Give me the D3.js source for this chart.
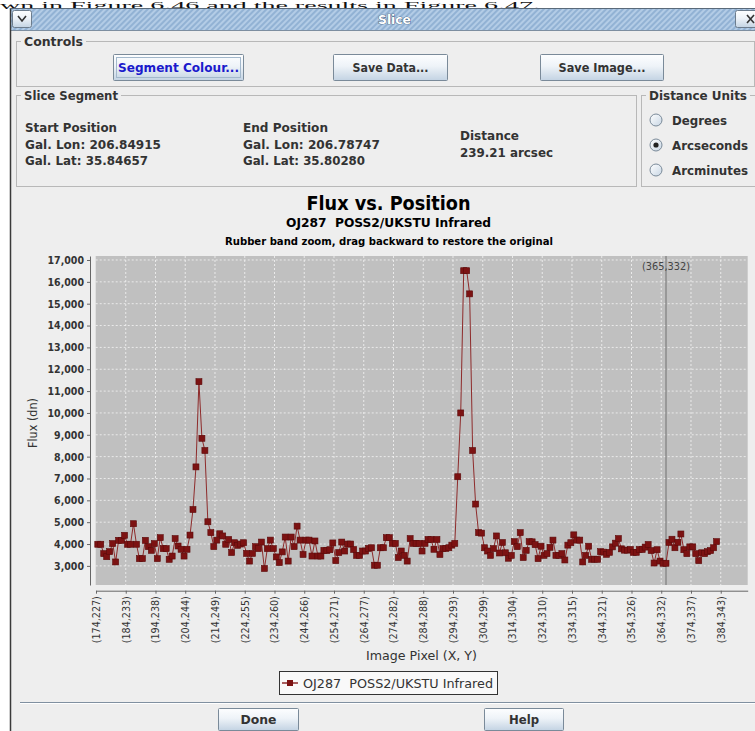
<!DOCTYPE html>
<html><head><meta charset="utf-8">
<script src="https://cdn.jsdelivr.net/npm/d3@7"></script>
<style>
html,body{margin:0;padding:0;background:#fff;overflow:hidden;}
svg{display:block;}
text{font-family:"DejaVu Sans Condensed","DejaVu Sans",sans-serif;}
</style></head><body>
<svg id="c" width="755" height="731"></svg>
<script>
// ---------------- DATA ----------------
const fluxValues = [
3990,3990,3560,3420,3650,4020,3180,4170,4170,4400,
3990,3990,4930,3990,3330,3330,4170,3880,3710,4020,
3330,4290,3790,3790,3300,3450,4250,3910,3760,3450,
3760,4410,5580,7530,11430,8840,8280,5020,4520,3880,
4180,4470,4370,3990,4210,3610,4060,3940,4000,4060,
3570,3220,3570,3880,3790,4090,2880,3790,4180,3790,
3410,3150,3640,4320,3220,4320,3880,4820,4180,3520,
4180,4180,3450,4140,3450,3450,3710,3700,3740,4050,
3240,3610,4090,3680,4000,4000,3750,3480,3480,3680,
3680,3800,3830,3030,3030,3830,3830,4290,4290,4030,
4030,3380,3680,3480,3220,4250,4030,4030,4030,3680,
4030,4210,4210,3760,4210,3520,3790,3800,3830,3950,
4030,7080,10000,16510,16510,15450,8280,5830,4520,4500,
3830,3680,3480,3790,4370,3590,4070,3600,3350,3480,
4110,3880,4520,3380,3710,4110,4100,3970,3330,3900,
3480,3560,3850,4180,3480,3480,3560,3270,3950,4060,
4420,4180,4180,3180,3480,3900,3300,3310,3300,3650,
3630,3530,3620,3870,4040,4250,3780,3720,3720,3750,
3620,3620,3750,3750,3860,3980,3700,3130,3740,3220,
3120,3120,4070,4220,3830,4080,4460,3740,3560,3870,
3870,3560,3240,3600,3560,3650,3700,3830,4110
];
const xTickLabels = ["(174,227)","(184,233)","(194,238)","(204,244)","(214,249)","(224,255)",
  "(234,260)","(244,266)","(254,271)","(264,277)","(274,282)","(284,288)","(294,293)",
  "(304,299)","(314,304)","(324,310)","(334,315)","(344,321)","(354,326)","(364,332)",
  "(374,337)","(384,343)"];
const xTickStep = 10;            // samples between labelled ticks
const pointOffset = 0.6;         // sample offset relative to tick grid
const yTickValues = [3000,4000,5000,6000,7000,8000,9000,10000,11000,12000,13000,14000,15000,16000,17000];
const crosshairIndex = 191;
const crosshairLabel = "(365,332)";
const seriesName = "OJ287  POSS2/UKSTU Infrared";
const chartTitle = "Flux vs. Position";
const chartSub1 = "OJ287  POSS2/UKSTU Infrared";
const chartSub2 = "Rubber band zoom, drag backward to restore the original";
const startPos = ["Start Position","Gal. Lon: 206.84915","Gal. Lat: 35.84657"];
const endPos = ["End Position","Gal. Lon: 206.78747","Gal. Lat: 35.80280"];
const distance = ["Distance","239.21 arcsec"];
const unitOptions = ["Degrees","Arcseconds","Arcminutes"];
const selectedUnit = "Arcseconds";

// ---------------- HELPERS ----------------
const svg = d3.select("#c");
const defs = svg.append("defs");

function txt(g, x, y, s, o = {}) {
  const t = g.append("text").attr("x", x).attr("y", y).text(s)
    .attr("font-size", o.size || 12)
    .attr("font-weight", o.weight || "normal")
    .attr("fill", o.fill || "#333")
    .attr("text-anchor", o.anchor || "start")
    .style("white-space", "pre");
  if (o.family) t.style("font-family", o.family);
  if (o.len) t.attr("textLength", o.len).attr("lengthAdjust", "spacingAndGlyphs");
  if (o.transform) t.attr("transform", o.transform);
  return t;
}

const btnGrad = defs.append("linearGradient").attr("id", "btn").attr("x1", 0).attr("y1", 0).attr("x2", 0).attr("y2", 1);
btnGrad.append("stop").attr("offset", "0%").attr("stop-color", "#fdfeff");
btnGrad.append("stop").attr("offset", "45%").attr("stop-color", "#eef3f8");
btnGrad.append("stop").attr("offset", "100%").attr("stop-color", "#c3d3e3");
const radGrad = defs.append("linearGradient").attr("id", "rad").attr("x1", 0).attr("y1", 0).attr("x2", 1).attr("y2", 1);
radGrad.append("stop").attr("offset", "0%").attr("stop-color", "#ffffff");
radGrad.append("stop").attr("offset", "100%").attr("stop-color", "#c8d6e4");
const pat = defs.append("pattern").attr("id", "stripes").attr("width", 4).attr("height", 4)
  .attr("patternUnits", "userSpaceOnUse").attr("patternTransform", "rotate(45)");
pat.append("rect").attr("width", 4).attr("height", 4).attr("fill", "#92b2d4");
pat.append("rect").attr("width", 2).attr("height", 4).attr("fill", "#b3cce6");

function button(x, y, w, h, label, len, o = {}) {
  const g = svg.append("g");
  g.append("rect").attr("x", x + 0.5).attr("y", y + 0.5).attr("width", w).attr("height", h)
    .attr("rx", 1).attr("fill", "url(#btn)").attr("stroke", "#7a8a99");
  if (o.focus) g.append("rect").attr("x", x + 3.5).attr("y", y + 3.5).attr("width", w - 6).attr("height", h - 6)
    .attr("fill", "none").attr("stroke", "#a3b8cc");
  txt(g, x + w / 2 + 0.5, y + h / 2 + 5, label, { weight: "bold", anchor: "middle", len, fill: o.fill || "#333" });
}
function groupBox(x, y, w, h, title, tlen) {
  const g = svg.append("g");
  g.append("rect").attr("x", x + 0.5).attr("y", y + 0.5).attr("width", w).attr("height", h)
    .attr("fill", "none").attr("stroke", "#b8b8b8");
  g.append("rect").attr("x", x + 5).attr("y", y - 6).attr("width", tlen + 6).attr("height", 12).attr("fill", "#eeeeee");
  txt(g, x + 8, y + 5, title, { weight: "bold", len: tlen });
}

// ---------------- PAGE / WINDOW ----------------
txt(svg, 0, 8.5, "wn in Figure 6.46 and the results in Figure 6.47.", { size: 11, fill: "#111", len: 540, family: "'Liberation Serif','DejaVu Serif',serif" });
svg.append("rect").attr("x", 10).attr("y", 8).attr("width", 760).attr("height", 740).attr("fill", "#eeeeee");
svg.append("rect").attr("x", 10).attr("y", 8).attr("width", 760).attr("height", 22).attr("fill", "url(#stripes)");
svg.append("line").attr("x1", 10).attr("x2", 755).attr("y1", 30.5).attr("y2", 30.5).attr("stroke", "#7d8ea0");
svg.append("line").attr("x1", 10.5).attr("x2", 10.5).attr("y1", 8).attr("y2", 731).attr("stroke", "#3a3a3a").attr("stroke-width", 1.5);
svg.append("line").attr("x1", 10).attr("x2", 755).attr("y1", 8.5).attr("y2", 8.5).attr("stroke", "#5a6a7a");
svg.append("rect").attr("x", 12.5).attr("y", 10.5).attr("width", 19).attr("height", 17).attr("rx", 2)
  .attr("fill", "url(#btn)").attr("stroke", "#6d7d8d");
svg.append("path").attr("d", "M18,16 L22,21 L26,16").attr("fill", "none").attr("stroke", "#333").attr("stroke-width", 1.6);
svg.append("rect").attr("x", 735.5).attr("y", 10.5).attr("width", 22).attr("height", 17).attr("rx", 2)
  .attr("fill", "url(#btn)").attr("stroke", "#6d7d8d");
svg.append("path").attr("d", "M747,15 L754,23 M754,15 L747,23").attr("stroke", "#333").attr("stroke-width", 1.6);
txt(svg, 394.5, 24, "Slice", { weight: "bold", anchor: "middle", fill: "#ffffff", len: 33 })
  .attr("stroke", "#2f4868").attr("stroke-width", 0.7).attr("paint-order", "stroke");

// ---------------- CONTROLS ----------------
groupBox(16, 41, 738, 45, "Controls", 59);
button(113, 54, 130, 26, "Segment Colour...", 121, { focus: true, fill: "#1a1acc" });
button(333, 54, 114, 26, "Save Data...", 76);
button(540, 54, 123, 26, "Save Image...", 87);

groupBox(16, 95, 620, 91, "Slice Segment", 94);
const lens1 = [92, 136, 123], lens2 = [85, 137, 122], lens3 = [59, 93];
startPos.forEach((s, k) => txt(svg, 25, 132 + k * 16.5, s, { weight: "bold", len: lens1[k] }));
endPos.forEach((s, k) => txt(svg, 243, 132 + k * 16.5, s, { weight: "bold", len: lens2[k] }));
distance.forEach((s, k) => txt(svg, 460, 140 + k * 17, s, { weight: "bold", len: lens3[k] }));

groupBox(641, 95, 130, 91, "Distance Units", 98);
const unitLens = [55, 76, 76];
unitOptions.forEach((u, k) => {
  const cy = 120 + k * 25;
  svg.append("circle").attr("cx", 656).attr("cy", cy).attr("r", 6).attr("fill", "url(#rad)").attr("stroke", "#7a8a99");
  if (u === selectedUnit) svg.append("circle").attr("cx", 656).attr("cy", cy).attr("r", 2.6).attr("fill", "#222");
  txt(svg, 672, cy + 4.5, u, { weight: "bold", len: unitLens[k] });
});

// ---------------- CHART ----------------
txt(svg, 388.5, 209.5, chartTitle, { size: 20, weight: "bold", anchor: "middle", fill: "#000", len: 164 });
txt(svg, 388.5, 227.3, chartSub1, { size: 12.5, weight: "bold", anchor: "middle", fill: "#000", len: 205 });
txt(svg, 389, 244.5, chartSub2, { size: 11, weight: "bold", anchor: "middle", fill: "#000", len: 328 });

const plot = { left: 95.7, right: 747.7, top: 256, bottom: 585 };
const x = d3.scaleLinear().domain([-0.1, 219.06]).range([plot.left, plot.right]);
const y = d3.scaleLinear().domain([2125, 17183]).range([plot.bottom, plot.top]);
const xTickPositions = xTickLabels.map((d, k) => k * xTickStep);

svg.append("rect").attr("x", plot.left).attr("y", plot.top).attr("width", plot.right - plot.left)
  .attr("height", plot.bottom - plot.top).attr("fill", "#c0c0c0");

const grid = svg.append("g").attr("stroke", "#ffffff").attr("stroke-width", 0.8)
  .attr("stroke-dasharray", "2,2").attr("opacity", 0.85);
grid.selectAll("line.h").data(yTickValues).join("line").attr("class", "h")
  .attr("x1", plot.left).attr("x2", plot.right).attr("y1", d => y(d)).attr("y2", d => y(d));
grid.selectAll("line.v").data(xTickPositions.slice(1)).join("line").attr("class", "v")
  .attr("y1", plot.top).attr("y2", plot.bottom).attr("x1", d => x(d)).attr("x2", d => x(d));

// crosshair
const cx = x(crosshairIndex + pointOffset);
svg.append("line").attr("x1", cx).attr("x2", cx).attr("y1", plot.top).attr("y2", plot.bottom)
  .attr("stroke", "#707070").attr("stroke-width", 1);
txt(svg, cx, 269.5, crosshairLabel, { size: 10, anchor: "middle", fill: "#444", len: 48 });

// series
const line = d3.line().x((d, i) => x(i + pointOffset)).y(d => y(d));
svg.append("path").datum(fluxValues).attr("d", line).attr("fill", "none")
  .attr("stroke", "#8e2b2b").attr("stroke-width", 1);
svg.append("g").selectAll("rect").data(fluxValues).join("rect")
  .attr("x", (d, i) => x(i + pointOffset) - 3).attr("y", d => y(d) - 3)
  .attr("width", 6).attr("height", 6).attr("fill", "#7c1212").attr("stroke", "#5c0a0a").attr("stroke-width", 0.6);

// y axis
const yAxis = svg.append("g").attr("transform", "translate(90,0)")
  .call(d3.axisLeft(y).tickValues(yTickValues).tickFormat(d3.format(",")).tickSize(3).tickPadding(3).tickSizeOuter(0));
yAxis.select(".domain").attr("stroke", "#666");
yAxis.selectAll(".tick line").attr("stroke", "#666");
yAxis.selectAll(".tick text").attr("font-size", 10.5).attr("font-weight", "bold").attr("fill", "#333")
  .style("font-family", "'DejaVu Sans Condensed','DejaVu Sans',sans-serif");

// x axis
const xAxis = svg.append("g").attr("transform", "translate(0,590.7)")
  .call(d3.axisBottom(x).tickValues(xTickPositions).tickFormat((d, k) => xTickLabels[k]).tickSize(3).tickSizeOuter(0));
xAxis.select(".domain").attr("stroke", "#666");
xAxis.selectAll(".tick line").attr("stroke", "#666");
xAxis.selectAll(".tick text").attr("transform", "rotate(-90)").attr("x", -5.5).attr("y", 0).attr("dy", "0.35em")
  .attr("text-anchor", "end").attr("font-size", 10).attr("fill", "#333")
  .attr("textLength", 47).attr("lengthAdjust", "spacingAndGlyphs")
  .style("font-family", "'DejaVu Sans Condensed','DejaVu Sans',sans-serif");

txt(svg, 421.5, 660, "Image Pixel (X, Y)", { size: 12, anchor: "middle", len: 111 });
txt(svg, 0, 0, "Flux (dn)", { size: 12, anchor: "middle", len: 50, transform: "translate(37,423) rotate(-90)" });

// legend
const lg = svg.append("g");
lg.append("rect").attr("x", 279.5).attr("y", 671.5).attr("width", 218).attr("height", 23)
  .attr("fill", "#f9f9f9").attr("stroke", "#333");
lg.append("line").attr("x1", 282).attr("x2", 298).attr("y1", 683).attr("y2", 683).attr("stroke", "#8e2b2b").attr("stroke-width", 1.5);
lg.append("rect").attr("x", 287).attr("y", 680).attr("width", 6).attr("height", 6).attr("fill", "#7c1212");
txt(lg, 303, 688, seriesName, { size: 12, len: 190 });

// bottom
svg.append("line").attr("x1", 20).attr("x2", 755).attr("y1", 702.5).attr("y2", 702.5).attr("stroke", "#8090a0");
svg.append("line").attr("x1", 20).attr("x2", 755).attr("y1", 703.5).attr("y2", 703.5).attr("stroke", "#ffffff");
button(218, 708, 80, 22, "Done", 36);
button(484, 708, 79, 22, "Help", 30);
</script></body></html>
